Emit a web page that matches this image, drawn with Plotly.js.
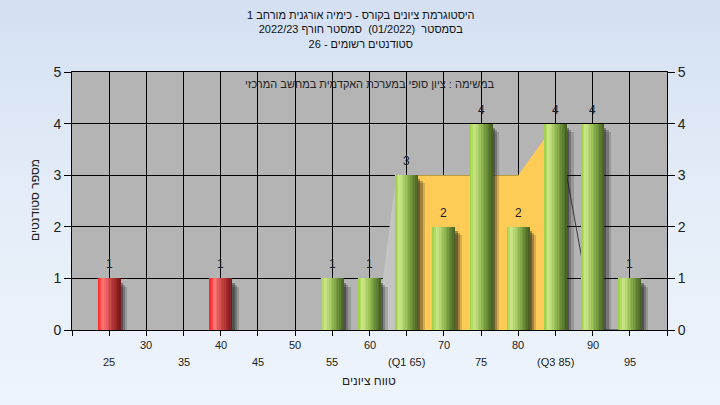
<!DOCTYPE html>
<html><head><meta charset="utf-8">
<script src="https://cdn.plot.ly/plotly-3.0.1.min.js"></script>
<style>
html,body{margin:0;padding:0;background:#eef4fc;}
#chart{width:720px;height:405px;background:linear-gradient(to bottom,#d4e0f2 0%,#e4edf8 50%,#eef4fc 100%);}
</style></head><body><div id="chart"></div>
<script>
// ---- data ----
const grades = [25, 40, 55, 60, 65, 70, 75, 80, 85, 90, 95];
const counts = [1, 1, 1, 1, 3, 2, 4, 2, 4, 4, 1];
const passMark = 55;
const xTickVals = [25, 30, 35, 40, 45, 50, 55, 60, 65, 70, 75, 80, 85, 90, 95];
const xTickText = ['25', '30', '35', '40', '45', '50', '55', '60', '(Q1 65)', '70', '75', '80', '(Q3 85)', '90', '95'];
const yTickVals = [0, 1, 2, 3, 4, 5];
const boxX = [65, 80, 85];
const boxY = [3, 3, 4];
const lowWhiskerX = [60.9, 63.6, 65];
const lowWhiskerY = [0, 3, 3];
const highWhiskerX = [86.0, 90.3, 95.3];
const highWhiskerY = [3.4, 0, 0];
const titleLines = ['היסטוגרמת ציונים בקורס - כימיה אורגנית מורחב 1', 'בסמסטר  (01/2022)  סמסטר חורף 2022/23', 'סטודנטים רשומים - 26'];
const noteText = 'במשימה : ציון סופי במערכת האקדמית במחשב המרכזי';
const xTitle = 'טווח ציונים';
const yTitle = 'מספר סטודנטים';

// ---- styling helpers ----
const FONT = 'Liberation Sans, Arial, sans-serif';
const BAR_W = 3.1;
const N_STRIPS = 14;
const greenStops = [[0, [150, 205, 60]], [0.2, [205, 232, 140]], [0.45, [160, 198, 92]], [0.75, [105, 140, 55]], [1, [68, 92, 34]]];
const redStops = [[0, [255, 25, 25]], [0.22, [255, 125, 125]], [0.48, [215, 78, 78]], [0.78, [158, 40, 40]], [1, [110, 25, 25]]];
function interp(stops, t) {
  for (let i = 1; i < stops.length; i++) {
    if (t <= stops[i][0]) {
      const a = stops[i - 1], b = stops[i];
      const f = (t - a[0]) / (b[0] - a[0]);
      const c = a[1].map((v, k) => Math.round(v + (b[1][k] - v) * f));
      return 'rgb(' + c.join(',') + ')';
    }
  }
  return 'rgb(' + stops[stops.length - 1][1].join(',') + ')';
}

const traces = [];
// low whisker area
traces.push({type: 'scatter', x: lowWhiskerX, y: lowWhiskerY, mode: 'lines', fill: 'tozeroy',
  fillcolor: '#c4c4c4', line: {width: 0, color: '#c4c4c4'}, hoverinfo: 'skip', showlegend: false});
// Q1-Q3 box area
traces.push({type: 'scatter', x: boxX, y: boxY, mode: 'lines', fill: 'tozeroy',
  fillcolor: '#fecb57', line: {width: 0, color: '#fecb57'}, hoverinfo: 'skip', showlegend: false});
// high whisker line
traces.push({type: 'scatter', x: highWhiskerX, y: highWhiskerY, mode: 'lines',
  line: {width: 1, color: '#3a3a3a'}, hoverinfo: 'skip', showlegend: false});

// shadows (overlay subplot y2, above the areas)
const shadowDefs = [[0.9, 0.16, 0.18], [0.6, 0.12, 0.28], [0.3, 0.08, 0.4]];
shadowDefs.forEach(([ext, drop, a]) => {
  traces.push({type: 'bar', x: grades, y: counts.map(c => c - drop + 0.2), base: -0.2, yaxis: 'y2',
    offset: -BAR_W / 2 + 0.25, width: BAR_W - 0.25 + ext,
    marker: {color: 'rgba(30,30,30,' + a + ')', line: {width: 0}}, hoverinfo: 'skip', showlegend: false});
});
// gradient strips (overlay subplot y3, on top)
const sw = BAR_W / N_STRIPS;
for (let i = 0; i < N_STRIPS; i++) {
  const t = (i + 0.5) / N_STRIPS;
  traces.push({type: 'bar', x: grades, y: counts, yaxis: 'y3', offset: -BAR_W / 2 + i * sw, width: sw * 1.02,
    marker: {color: grades.map(g => interp(g < passMark ? redStops : greenStops, t)), line: {width: 0}},
    hoverinfo: 'skip', showlegend: false});
}

const pxToPaperY = Y => (330 - Y) / 258;
const pxToPaperX = X => (X - 72) / 595;
const annotations = [];
annotations.push({text: titleLines.join('<br>'), xref: 'paper', yref: 'paper', x: pxToPaperX(361), y: pxToPaperY(30),
  xanchor: 'center', yanchor: 'middle', showarrow: false, font: {family: FONT, size: 11, color: '#111'}});
annotations.push({text: noteText, xref: 'paper', yref: 'paper', x: pxToPaperX(370), y: pxToPaperY(84),
  xanchor: 'center', yanchor: 'middle', showarrow: false, font: {family: FONT, size: 11, color: '#222'}});
grades.forEach((g, i) => {
  annotations.push({text: String(counts[i]), xref: 'x', yref: 'y', x: g, y: counts[i], yshift: 5,
    xanchor: 'center', yanchor: 'bottom', showarrow: false, font: {family: FONT, size: 12, color: '#1a1a2a'}});
});
xTickVals.forEach((v, i) => {
  const row = (i % 2 === 0) ? 362 : 345;
  annotations.push({text: xTickText[i], xref: 'x', yref: 'paper', x: v, y: pxToPaperY(row),
    xanchor: 'center', yanchor: 'middle', showarrow: false, font: {family: FONT, size: 11, color: '#222'}});
});
annotations.push({text: xTitle, xref: 'paper', yref: 'paper', x: pxToPaperX(369), y: pxToPaperY(381),
  xanchor: 'center', yanchor: 'middle', showarrow: false, font: {family: FONT, size: 12, color: '#222'}});
annotations.push({text: yTitle, xref: 'paper', yref: 'paper', x: pxToPaperX(35), y: pxToPaperY(200),
  xanchor: 'center', yanchor: 'middle', textangle: -90, showarrow: false, font: {family: FONT, size: 12, color: '#222'}});

const xGridVals = [];
for (let v = 20; v <= 100; v += 5) xGridVals.push(v);

const yAxisCommon = {range: [0, 5], tickvals: yTickVals, ticks: 'outside', ticklen: 7, tickwidth: 1, tickcolor: '#000',
  showline: true, linecolor: '#000', linewidth: 1, zeroline: false, fixedrange: true,
  tickfont: {family: FONT, size: 14, color: '#222'}};

const layout = {
  width: 720, height: 405,
  margin: {l: 72, r: 53, t: 72, b: 75},
  paper_bgcolor: 'rgba(0,0,0,0)', plot_bgcolor: '#b4b4b4',
  barmode: 'overlay', bargap: 0,
  showlegend: false,
  xaxis: {range: [20, 100], tickvals: xGridVals, showticklabels: false, ticks: 'outside', ticklen: 5,
    tickcolor: '#000', showgrid: true, gridcolor: '#000', gridwidth: 1, showline: true, mirror: true,
    linecolor: '#000', linewidth: 1, zeroline: false, fixedrange: true},
  yaxis: Object.assign({}, yAxisCommon, {side: 'left', showgrid: true, gridcolor: '#000', gridwidth: 1}),
  yaxis2: Object.assign({}, yAxisCommon, {side: 'right', overlaying: 'y', showgrid: false}),
  yaxis3: {range: [0, 5], overlaying: 'y', visible: false, showgrid: false, zeroline: false, fixedrange: true},
  annotations: annotations
};

Plotly.newPlot('chart', traces, layout, {displayModeBar: false, staticPlot: true});
</script></body></html>
